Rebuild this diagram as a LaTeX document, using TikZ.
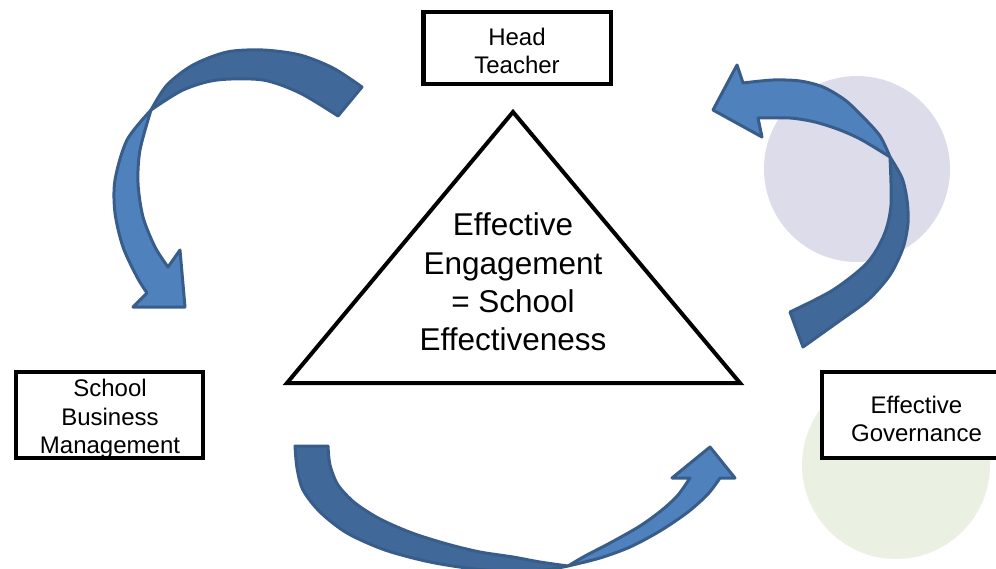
\documentclass[tikz,border=0pt]{standalone}
\usepackage{fontspec}
\setmainfont{Liberation Sans}
\definecolor{arrowlight}{RGB}{79,129,189}
\definecolor{arrowdark}{RGB}{64,104,153}
\definecolor{arrowline}{RGB}{56,93,138}
\definecolor{lavender}{RGB}{221,220,235}
\definecolor{sage}{RGB}{235,241,226}
\begin{document}
\begin{tikzpicture}[x=1pt,y=-1pt,
  box/.style={draw=black, fill=white, line width=4.5pt, rectangle, inner sep=0pt},
  boxtext/.style={align=center, inner sep=0pt, font=\fontsize{24}{28.5}\selectfont},
  backband/.style={fill=arrowdark, draw=arrowline, line width=3pt, line join=round},
  frontband/.style={fill=arrowlight, draw=arrowline, line width=3pt, line join=round}]
\useasboundingbox (0,0) rectangle (996,568);
\clip (0,0) rectangle (996,568);

% soft background discs
\fill[lavender] (857,169) circle[radius=93];
\fill[sage] (896,465) circle[radius=94];

% central triangle and its caption
\coordinate (apex) at (513,112);
\coordinate (bl) at (287,383);
\coordinate (br) at (740,383);
\draw[line width=4pt, line join=miter] (apex) -- (br) -- (bl) -- cycle;
\node[font=\fontsize{31.5}{38.3}\selectfont, align=center] (engage) at (513,282)
  {Effective\\Engagement\\= School\\Effectiveness};

% the three role boxes
\node[box, minimum width=187.5pt, minimum height=72pt] (head) at (517,48) {};
\node[boxtext] (headlabel) at (517,51) {Head\\Teacher};
\node[box, minimum width=187pt, minimum height=86pt] (sbm) at (109.5,415) {};
\node[boxtext] (sbmlabel) at (110,419) {School\\Business\\Management};
\node[box, minimum width=189pt, minimum height=86pt] (gov) at (916.5,415) {};
\node[boxtext] (govlabel) at (916.5,419) {Effective\\Governance};

% curved arrow: Head Teacher -> School Business Management
\draw[backband] plot[smooth] coordinates {(362,87) (333,68) (300,55) (263,50) (227,52) (193,65) (167,85) (151,110)}
  -- plot[smooth] coordinates {(151,110) (183,90) (217,80) (263,80) (300,93) (338,116)} -- cycle;
\draw[frontband] plot[smooth] coordinates {(151,110) (127,140) (115,180) (115,213) (123,247) (137,277) (147,293)}
  -- (133,307) -- (185,307) -- (180,250) -- (168,267)
  -- plot[smooth] coordinates {(168,267) (155,247) (143,217) (138,183) (140,150) (151,110)} -- cycle;

% curved arrow: Effective Governance -> Head Teacher
\draw[backband] plot[smooth] coordinates {(890,157) (902,178) (907,200) (908,223) (903,248) (890,275) (868,300) (838,322) (803,347)}
  -- plot[smooth] coordinates {(790,312) (833,290) (867,263) (884,235) (891,205) (890,157)} -- cycle;
\draw[frontband] plot[smooth] coordinates {(890,157) (880,136) (863,117) (845,100) (823,87) (800,81) (773,80) (743,83)}
  -- (737,65) -- (713,110) -- (762,137) -- (758,118)
  -- plot[smooth] coordinates {(758,118) (790,118) (815,122) (840,130) (862,140) (890,157)} -- cycle;

% curved arrow: School Business Management -> Effective Governance
\draw[backband] plot[smooth] coordinates {(295,446) (297,468) (303,490) (320,512) (347,533) (385,550) (430,562) (475,569) (513,571) (545,570) (568,566)}
  -- plot[smooth] coordinates {(568,566) (540,562) (513,557) (480,552) (447,544) (412,533) (380,519) (355,503) (338,485) (330,465) (328,446)} -- cycle;
\draw[frontband] plot[smooth] coordinates {(568,566) (600,558) (630,547) (660,531) (688,512) (708,494) (720,478)}
  -- (735,478) -- (710,447) -- (672,478) -- (690,478)
  -- plot[smooth] coordinates {(690,478) (678,495) (662,510) (640,526) (610,543) (585,556) (568,566)} -- cycle;
\end{tikzpicture}
\end{document}
